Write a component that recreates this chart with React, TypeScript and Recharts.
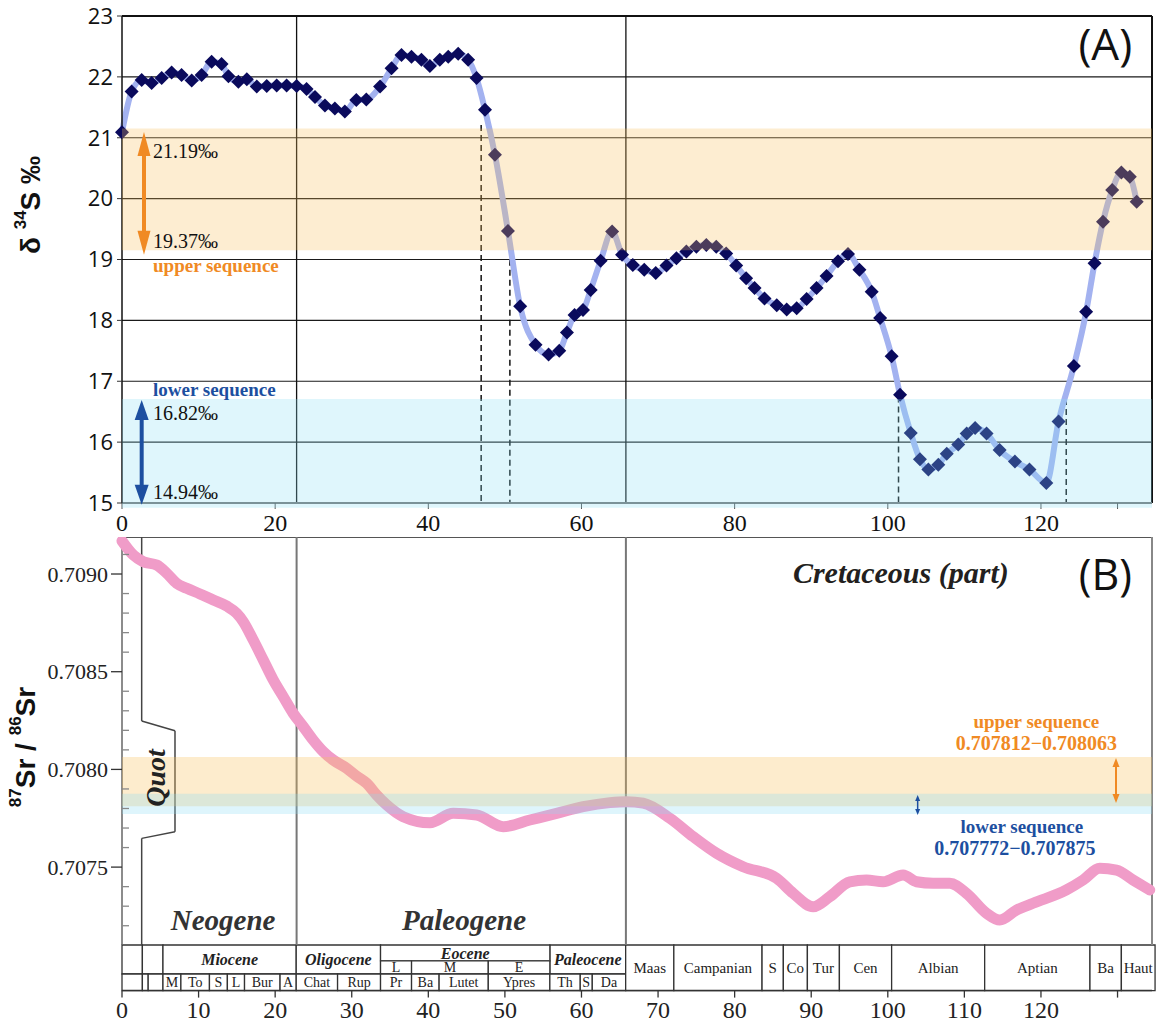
import React from "react";
import { LineChart, Line, XAxis, YAxis, CartesianGrid, ReferenceArea, ReferenceLine, ReferenceDot } from "recharts";

// ---- panel A : δ34S record ----
const sAge = [0, 1.26, 2.57, 3.87, 5.18, 6.48, 7.78, 9.1, 10.4, 11.7, 13.0, 13.9, 15.2, 16.3, 17.6, 18.9, 20.2, 21.5, 22.8, 24.1, 25.2, 26.5, 27.8, 29.1, 30.6, 31.9, 33.7, 35.2, 36.5, 37.8, 39.1, 40.2, 41.5, 42.6, 43.9, 45.2, 46.3, 47.4, 48.7, 50.4, 52.0, 54.0, 55.7, 57.1, 58.1, 59.1, 60.2, 61.2, 62.5, 64.0, 65.3, 66.7, 68.2, 69.7, 71.1, 72.4, 73.7, 75.0, 76.3, 77.6, 78.9, 80.2, 81.5, 82.6, 83.9, 85.5, 86.8, 88.1, 89.4, 90.7, 92.0, 93.5, 94.8, 96.3, 97.9, 99.0, 100.5, 101.6, 103.0, 104.2, 105.3, 106.6, 107.7, 109.2, 110.3, 111.4, 112.9, 114.6, 116.6, 118.5, 120.7, 122.3, 124.3, 125.9, 127.0, 128.1, 129.3, 130.5, 131.6, 132.5];
const sD34 = [21.09, 21.76, 21.95, 21.9, 21.98, 22.07, 22.03, 21.94, 22.03, 22.25, 22.21, 22.01, 21.92, 21.96, 21.84, 21.85, 21.86, 21.86, 21.85, 21.8, 21.67, 21.53, 21.48, 21.43, 21.62, 21.63, 21.84, 22.14, 22.36, 22.33, 22.28, 22.18, 22.28, 22.33, 22.38, 22.28, 21.98, 21.46, 20.72, 19.47, 18.23, 17.6, 17.44, 17.5, 17.8, 18.09, 18.17, 18.5, 18.98, 19.46, 19.08, 18.91, 18.83, 18.78, 18.9, 19.02, 19.13, 19.21, 19.24, 19.21, 19.1, 18.9, 18.69, 18.53, 18.36, 18.25, 18.18, 18.2, 18.35, 18.53, 18.73, 18.97, 19.09, 18.83, 18.47, 18.04, 17.41, 16.78, 16.15, 15.72, 15.55, 15.63, 15.81, 15.96, 16.14, 16.23, 16.14, 15.87, 15.68, 15.55, 15.33, 16.34, 17.25, 18.14, 18.94, 19.62, 20.14, 20.43, 20.36, 19.95];
const sYTicks = [15, 16, 17, 18, 19, 20, 21, 22, 23];
const sXTicks = [0, 20, 40, 60, 80, 100, 120, 130];
const sUpperBand = [19.15, 21.15];
const sLowerBand = [14.92, 16.71];
const sDropLines = [
  [46.9, 21.21],
  [50.65, 19.16],
  [101.4, 16.75],
  [123.3, 16.71],
];

// ---- panel B : 87Sr/86Sr seawater curve ----
const srAge = [0, 1.48, 2.78, 4.53, 5.84, 7.14, 8.45, 10.18, 11.92, 13.67, 14.97, 15.84, 17.14, 18.45, 19.75, 21.06, 22.36, 23.67, 24.97, 26.28, 27.58, 29.33, 30.64, 31.95, 33.25, 34.56, 36.72, 40.21, 43.25, 46.31, 49.78, 53.26, 56.75, 60.22, 63.71, 65.89, 68.05, 71.54, 74.58, 77.64, 81.11, 85.47, 87.64, 90.25, 92.43, 95.04, 97.22, 99.39, 102.0, 103.75, 105.91, 108.09, 110.27, 112.88, 114.62, 116.8, 118.97, 123.33, 125.5, 127.68, 129.86, 132.02, 134.2];
const srRatio = [0.709169, 0.709097, 0.709063, 0.709046, 0.709004, 0.708952, 0.708927, 0.708898, 0.708867, 0.708836, 0.708799, 0.708756, 0.708662, 0.70856, 0.708458, 0.708372, 0.708287, 0.708219, 0.70815, 0.708091, 0.708048, 0.708006, 0.707966, 0.707929, 0.707869, 0.707818, 0.707758, 0.707727, 0.707775, 0.707767, 0.707707, 0.707741, 0.707775, 0.707809, 0.70783, 0.707835, 0.707827, 0.70775, 0.707656, 0.707571, 0.707502, 0.707443, 0.707366, 0.707297, 0.707349, 0.707425, 0.707434, 0.707425, 0.70746, 0.707425, 0.707417, 0.707417, 0.707366, 0.707264, 0.707229, 0.70728, 0.707315, 0.707383, 0.707434, 0.707494, 0.707485, 0.707434, 0.707383];
const SR_TOP = 0.7091894;
const SR_PLOT_BOTTOM = 0.7071013; // lower edge of the curve frame, the time-scale strip sits below it
const SR_AXIS_BOTTOM = 0.706868; // bottom of the time-scale strip
const srTicks = [0.7072, 0.7073, 0.7074, 0.7075, 0.7076, 0.7077, 0.7078, 0.7079, 0.708, 0.7081, 0.7082, 0.7083, 0.7084, 0.7085, 0.7086, 0.7087, 0.7088, 0.7089, 0.709, 0.7091];
const srUpperBand = [0.707812, 0.708063];
const srLowerBand = [0.707772, 0.707875];

// ---- shared ----
const X_MAX = 134.5;
const periodBounds = [22.8, 65.8];
const timeTicks = [0, 10, 20, 30, 40, 50, 60, 70, 80, 90, 100, 110, 120, 130];

// geologic time scale (Ma)
const epochs = [
  { name: "", from: 0, to: 2.66 },
  { name: "", from: 2.66, to: 5.35 },
  { name: "Miocene", from: 5.35, to: 22.75 },
  { name: "Oligocene", from: 22.75, to: 33.76 },
  { name: "Paleocene", from: 55.87, to: 65.77 },
];
const eocene = { name: "Eocene", from: 33.76, to: 55.87 };
const eoceneParts = [
  { name: "L", from: 33.76, to: 37.81 },
  { name: "M", from: 37.81, to: 47.83 },
  { name: "E", from: 47.83, to: 55.87 },
];
const cenozoicStages = [
  { name: "", from: 0, to: 2.66 },
  { name: "", from: 2.66, to: 3.42 },
  { name: "", from: 3.42, to: 5.35 },
  { name: "M", from: 5.35, to: 7.69 },
  { name: "To", from: 7.69, to: 11.42 },
  { name: "S", from: 11.42, to: 13.76 },
  { name: "L", from: 13.76, to: 16.0 },
  { name: "Bur", from: 16.0, to: 20.64 },
  { name: "A", from: 20.64, to: 22.75 },
  { name: "Chat", from: 22.75, to: 28.15 },
  { name: "Rup", from: 28.15, to: 33.76 },
  { name: "Pr", from: 33.76, to: 37.81 },
  { name: "Ba", from: 37.81, to: 41.41 },
  { name: "Lutet", from: 41.41, to: 47.83 },
  { name: "Ypres", from: 47.83, to: 55.87 },
  { name: "Th", from: 55.87, to: 59.84 },
  { name: "S", from: 59.84, to: 61.41 },
  { name: "Da", from: 61.41, to: 65.77 },
];
const cretaceousStages = [
  { name: "Maas", from: 65.77, to: 72.06 },
  { name: "Campanian", from: 72.06, to: 83.58 },
  { name: "S", from: 83.58, to: 86.36 },
  { name: "Co", from: 86.36, to: 89.5 },
  { name: "Tur", from: 89.5, to: 93.68 },
  { name: "Cen", from: 93.68, to: 100.5 },
  { name: "Albian", from: 100.5, to: 112.65 },
  { name: "Aptian", from: 112.65, to: 126.4 },
  { name: "Ba", from: 126.4, to: 130.5 },
  { name: "Haut", from: 130.5, to: 134.9 },
];

const dataA = sAge.map((age, i) => ({ age, d34: sD34[i] }));
const dataB = srAge.map((age, i) => ({ age, sr: srRatio[i] }));

const SERIF = "'Liberation Serif', 'Times New Roman', serif";
const SANS = "'Open Sans', 'Noto Sans', sans-serif";
const ORANGE = "#f08a24";
const BLUE = "#1d4fa0";

// strip rows: 0 = bottom of strip, 1 = top of strip
const STAGE_TOP = 0.364;
const EOCENE_SPLIT = 0.654;
const stripY = (u: number) => SR_AXIS_BOTTOM + u * (SR_PLOT_BOTTOM - SR_AXIS_BOTTOM);

const renderDiamond = (p: any) => {
  const { cx, cy, index } = p;
  if (cx == null || cy == null) return <g key={`d${index}`} />;
  const s = 7;
  return <polygon key={`d${index}`} points={`${cx},${cy - s} ${cx + s},${cy} ${cx},${cy + s} ${cx - s},${cy}`} fill="#0a0a5c" />;
};

const textShape = (txt: string, style: any) => (p: any) => (
  <text x={p.cx} y={p.cy} {...style}>
    {txt}
  </text>
);

const rotatedText = (txt: string, style: any) => (p: any) => (
  <text x={p.cx} y={p.cy} transform={`rotate(-90 ${p.cx} ${p.cy})`} textAnchor="middle" dominantBaseline="central" {...style}>
    {txt}
  </text>
);

const arrowShape = (color: string, shaft: number, headLen: number, headW: number) => (p: any) => {
  const { x1, y1, x2, y2 } = p;
  const dx = x2 - x1;
  const dy = y2 - y1;
  const len = Math.hypot(dx, dy) || 1;
  const ux = dx / len;
  const uy = dy / len;
  const nx = -uy;
  const ny = ux;
  const head = (tx: number, ty: number, dir: number) => {
    const bx = tx - dir * ux * headLen;
    const by = ty - dir * uy * headLen;
    return `${tx},${ty} ${bx + (nx * headW) / 2},${by + (ny * headW) / 2} ${bx - (nx * headW) / 2},${by - (ny * headW) / 2}`;
  };
  return (
    <g>
      <line x1={x1 + ux * headLen * 0.7} y1={y1 + uy * headLen * 0.7} x2={x2 - ux * headLen * 0.7} y2={y2 - uy * headLen * 0.7} stroke={color} strokeWidth={shaft} />
      <polygon points={head(x2, y2, 1)} fill={color} />
      <polygon points={head(x1, y1, -1)} fill={color} />
    </g>
  );
};

const YLabelA = (props: any) => {
  const vb = props.viewBox || { x: 0, y: 16 };
  const cx = vb.x + 30;
  const cy = 205;
  return (
    <text x={cx} y={cy} transform={`rotate(-90 ${cx} ${cy})`} textAnchor="middle" dominantBaseline="central" fontFamily="'Liberation Sans', Arial, sans-serif" fontWeight="bold" fontSize={28} fill="#111">
      <tspan>δ </tspan>
      <tspan fontSize={17} dy={-10}>34</tspan>
      <tspan dy={10}>S ‰</tspan>
    </text>
  );
};

const YLabelB = (props: any) => {
  const vb = props.viewBox || { x: 0, y: 0 };
  const cx = vb.x + 25;
  const cy = vb.y + 210;
  return (
    <text x={cx} y={cy} transform={`rotate(-90 ${cx} ${cy})`} textAnchor="middle" dominantBaseline="central" fontFamily="'Liberation Sans', Arial, sans-serif" fontWeight="bold" fontSize={28} fill="#111">
      <tspan fontSize={17} dy={-10}>87</tspan>
      <tspan dy={10}>Sr / </tspan>
      <tspan fontSize={17} dy={-10}>86</tspan>
      <tspan dy={10}>Sr</tspan>
    </text>
  );
};

// labelled ticks every 0.0005 pointing out, minor ticks every 0.0001 pointing in
const SrTick = (p: any) => {
  const { x, y, payload } = p;
  const v = payload.value;
  const major = Math.abs(Math.round(v * 2000) - v * 2000) < 1e-6;
  if (major) {
    return (
      <g>
        <line x1={x - 11} y1={y} x2={x} y2={y} stroke="#333" strokeWidth={1.3} />
        <text x={x - 14} y={y} textAnchor="end" dominantBaseline="central" fontFamily={SERIF} fontSize={22} fill="#222">
          {v.toFixed(4)}
        </text>
      </g>
    );
  }
  return <line x1={x} y1={y} x2={x + 7} y2={y} stroke="#888" strokeWidth={1.3} />;
};

const annA = { fontFamily: SERIF, fontSize: 20, fill: "#111" };

function PanelA() {
  return (
    <LineChart width={1157} height={540} data={dataA} margin={{ top: 16, right: 5, left: 0, bottom: 0 }}>
      <CartesianGrid vertical={false} stroke="#1a1a1a" strokeWidth={1.2} />
      <XAxis
        type="number"
        dataKey="age"
        domain={[0, X_MAX]}
        ticks={sXTicks}
        interval={0}
        tickFormatter={(v: number) => (v === 130 ? "" : String(v))}
        tickSize={6}
        tickMargin={5}
        height={37}
        axisLine={{ stroke: "#777", strokeWidth: 2 }}
        tickLine={{ stroke: "#555" }}
        tick={{ fontFamily: SERIF, fontSize: 24, fill: "#111" }}
      />
      <YAxis
        domain={[15, 23]}
        ticks={sYTicks}
        interval={0}
        width={122}
        tickSize={5}
        tickMargin={4}
        axisLine={{ stroke: "#111", strokeWidth: 1.5 }}
        tickLine={{ stroke: "#333" }}
        tick={{ fontFamily: SANS, fontSize: 22, fill: "#111" }}
        label={<YLabelA />}
      />
      {periodBounds.map((x) => (
        <ReferenceLine key={`p${x}`} x={x} stroke="#111" strokeWidth={1.3} />
      ))}
      <ReferenceLine y={23} stroke="#111" strokeWidth={2} />
      <ReferenceLine x={X_MAX} stroke="#111" strokeWidth={2} />
      {sDropLines.map(([x, y]) => (
        <ReferenceLine key={`dl${x}`} segment={[{ x, y }, { x, y: 15 }]} stroke="#111" strokeWidth={1.5} strokeDasharray="6 4" />
      ))}
      <Line type="monotone" dataKey="d34" stroke="#a3b2f0" strokeWidth={6} dot={renderDiamond} activeDot={false} isAnimationActive={false} />
      <ReferenceArea x1={0} x2={X_MAX} y1={sUpperBand[0]} y2={sUpperBand[1]} fill="#f7c058" fillOpacity={0.28} stroke="none" ifOverflow="visible" zIndex={1000} />
      <ReferenceArea x1={0} x2={X_MAX} y1={sLowerBand[0]} y2={sLowerBand[1]} fill="#8adcf4" fillOpacity={0.27} stroke="none" ifOverflow="visible" zIndex={1000} />
      <ReferenceLine segment={[{ x: 2.87, y: 21.095 }, { x: 2.87, y: 19.08 }]} shape={arrowShape(ORANGE, 4, 24, 13)} ifOverflow="visible" zIndex={1100} />
      <ReferenceLine segment={[{ x: 2.57, y: 16.69 }, { x: 2.57, y: 14.97 }]} shape={arrowShape(BLUE, 4, 20, 14)} ifOverflow="visible" zIndex={1100} />
      <ReferenceDot x={4.05} y={20.67} r={0} ifOverflow="visible" shape={textShape("21.19‰", annA)} zIndex={1100} />
      <ReferenceDot x={4.05} y={19.19} r={0} ifOverflow="visible" shape={textShape("19.37‰", annA)} zIndex={1100} />
      <ReferenceDot x={4.05} y={18.8} r={0} ifOverflow="visible" shape={textShape("upper sequence", { fontFamily: SERIF, fontSize: 19, fontWeight: "bold", fill: ORANGE })} zIndex={1100} />
      <ReferenceDot x={4.05} y={16.76} r={0} ifOverflow="visible" shape={textShape("lower sequence", { fontFamily: SERIF, fontSize: 19, fontWeight: "bold", fill: BLUE })} zIndex={1100} />
      <ReferenceDot x={4.05} y={16.37} r={0} ifOverflow="visible" shape={textShape("16.82‰", annA)} zIndex={1100} />
      <ReferenceDot x={4.05} y={15.07} r={0} ifOverflow="visible" shape={textShape("14.94‰", annA)} zIndex={1100} />
      <ReferenceDot x={128.4} y={22.28} r={0} ifOverflow="visible" shape={textShape("(A)", { fontFamily: SANS, fontSize: 44, fill: "#111", textAnchor: "middle" })} zIndex={1100} />
    </LineChart>
  );
}

const quotOutline = [
  [2.57, SR_TOP, 2.57, 0.708248],
  [2.57, 0.708248, 6.92, 0.708198],
  [6.92, 0.708198, 6.92, 0.707681],
  [6.92, 0.707681, 2.57, 0.707647],
  [2.57, 0.707647, 2.57, SR_PLOT_BOTTOM],
];

function PanelB() {
  const big = { fontFamily: SERIF, fontSize: 29, fontWeight: "bold", fontStyle: "italic", fill: "#333", textAnchor: "middle" };
  const box = { stroke: "#333", strokeWidth: 1.3, fill: "#fff", fillOpacity: 1, ifOverflow: "visible" as const };
  const epochLabel = { position: "center" as const, fontFamily: SERIF, fontSize: 16, fontWeight: "bold", fontStyle: "italic", fill: "#222" };
  const stageLabel = { position: "center" as const, fontFamily: SERIF, fontSize: 14, fill: "#222" };
  const kLabel = { position: "center" as const, fontFamily: SERIF, fontSize: 15, fill: "#222" };
  return (
    <LineChart width={1157} height={486} data={dataB} margin={{ top: 0, right: 5, left: 0, bottom: 0 }}>
      <XAxis
        type="number"
        dataKey="age"
        domain={[0, X_MAX]}
        ticks={timeTicks}
        interval={0}
        tickFormatter={(v: number) => (v === 130 ? "" : String(v))}
        tickSize={7}
        tickMargin={3}
        height={32.4}
        axisLine={{ stroke: "#333", strokeWidth: 1.5 }}
        tickLine={{ stroke: "#333", strokeWidth: 1.3 }}
        tick={{ fontFamily: SERIF, fontSize: 24, fill: "#222" }}
      />
      <YAxis
        domain={[SR_AXIS_BOTTOM, SR_TOP]}
        ticks={srTicks}
        interval={0}
        width={122}
        tickSize={0}
        tickMargin={0}
        tickLine={false}
        axisLine={false}
        tick={SrTick}
        allowDataOverflow
        label={<YLabelB />}
      />
      <ReferenceLine segment={[{ x: 0, y: SR_PLOT_BOTTOM }, { x: 0, y: SR_TOP }]} stroke="#666" strokeWidth={1.5} />
      <ReferenceLine y={SR_TOP} stroke="#555" strokeWidth={2} />
      <ReferenceLine segment={[{ x: X_MAX, y: SR_PLOT_BOTTOM }, { x: X_MAX, y: SR_TOP }]} stroke="#888" strokeWidth={2} />
      {periodBounds.map((x) => (
        <ReferenceLine key={`pb${x}`} segment={[{ x, y: SR_PLOT_BOTTOM }, { x, y: SR_TOP }]} stroke="#777" strokeWidth={2} />
      ))}
      {quotOutline.map(([xa, ya, xb, yb], i) => (
        <ReferenceLine key={`q${i}`} segment={[{ x: xa, y: ya }, { x: xb, y: yb }]} stroke="#444" strokeWidth={1.5} ifOverflow="visible" />
      ))}
      <Line type="monotone" dataKey="sr" stroke="#f09cc8" strokeWidth={11} strokeLinecap="round" strokeLinejoin="round" dot={false} activeDot={false} isAnimationActive={false} />
      <ReferenceArea x1={0} x2={X_MAX} y1={srUpperBand[0]} y2={srUpperBand[1]} fill="#f7c058" fillOpacity={0.3} stroke="none" zIndex={1000} />
      <ReferenceArea x1={0} x2={X_MAX} y1={srLowerBand[0]} y2={srLowerBand[1]} fill="#8adcf4" fillOpacity={0.28} stroke="none" zIndex={1000} />
      <ReferenceLine segment={[{ x: 129.8, y: 0.708058 }, { x: 129.8, y: 0.707828 }]} shape={arrowShape(ORANGE, 2, 9, 7)} zIndex={1100} />
      <ReferenceLine segment={[{ x: 103.9, y: 0.707869 }, { x: 103.9, y: 0.707767 }]} shape={arrowShape(BLUE, 1.5, 6, 5)} zIndex={1100} />
      <ReferenceDot x={101.7} y={0.708954} r={0} ifOverflow="visible" shape={textShape("Cretaceous (part)", { ...big, fontSize: 30, fill: "#231f20" })} zIndex={1100} />
      <ReferenceDot x={128.4} y={0.708918} r={0} ifOverflow="visible" shape={textShape("(B)", { fontFamily: SANS, fontSize: 43, fill: "#111", textAnchor: "middle" })} zIndex={1100} />
      <ReferenceDot x={119.4} y={0.708212} r={0} ifOverflow="visible" shape={textShape("upper sequence", { fontFamily: SERIF, fontSize: 19, fontWeight: "bold", fill: ORANGE, textAnchor: "middle" })} zIndex={1100} />
      <ReferenceDot x={119.4} y={0.708099} r={0} ifOverflow="visible" shape={textShape("0.707812−0.708063", { fontFamily: SERIF, fontSize: 20, fontWeight: "bold", fill: ORANGE, textAnchor: "middle" })} zIndex={1100} />
      <ReferenceDot x={117.5} y={0.707675} r={0} ifOverflow="visible" shape={textShape("lower sequence", { fontFamily: SERIF, fontSize: 19, fontWeight: "bold", fill: BLUE, textAnchor: "middle" })} zIndex={1100} />
      <ReferenceDot x={116.6} y={0.707562} r={0} ifOverflow="visible" shape={textShape("0.707772−0.707875", { fontFamily: SERIF, fontSize: 20, fontWeight: "bold", fill: BLUE, textAnchor: "middle" })} zIndex={1100} />
      <ReferenceDot x={13.2} y={0.707178} r={0} ifOverflow="visible" shape={textShape("Neogene", big)} zIndex={1100} />
      <ReferenceDot x={44.66} y={0.707178} r={0} ifOverflow="visible" shape={textShape("Paleogene", big)} zIndex={1100} />
      <ReferenceDot x={4.44} y={0.707956} r={0} ifOverflow="visible" shape={rotatedText("Quot", { fontFamily: SERIF, fontSize: 28, fontWeight: "bold", fontStyle: "italic", fill: "#222" })} zIndex={1100} />

      {/* geologic time-scale strip */}
      {epochs.map((e, i) => (
        <ReferenceArea key={`e${i}`} x1={e.from} x2={e.to} y1={stripY(STAGE_TOP)} y2={stripY(1)} {...box} label={{ value: e.name, ...epochLabel }} />
      ))}
      <ReferenceArea x1={eocene.from} x2={eocene.to} y1={stripY(EOCENE_SPLIT)} y2={stripY(1)} {...box} label={{ value: eocene.name, ...epochLabel }} />
      {eoceneParts.map((e, i) => (
        <ReferenceArea key={`ep${i}`} x1={e.from} x2={e.to} y1={stripY(STAGE_TOP)} y2={stripY(EOCENE_SPLIT)} {...box} label={{ value: e.name, ...stageLabel }} />
      ))}
      {cenozoicStages.map((s, i) => (
        <ReferenceArea key={`cs${i}`} x1={s.from} x2={s.to} y1={stripY(0)} y2={stripY(STAGE_TOP)} {...box} label={{ value: s.name, ...stageLabel }} />
      ))}
      {cretaceousStages.map((s, i) => (
        <ReferenceArea key={`ks${i}`} x1={s.from} x2={s.to} y1={stripY(0)} y2={stripY(1)} {...box} label={{ value: s.name, ...kLabel }} />
      ))}
    </LineChart>
  );
}

export default function App() {
  return (
    <div style={{ position: "absolute", left: 0, top: 0, width: 1157, height: 1023, background: "#fff" }}>
      <div style={{ position: "absolute", left: 0, top: 0 }}>
        <PanelA />
      </div>
      <div style={{ position: "absolute", left: 0, top: 537 }}>
        <PanelB />
      </div>
    </div>
  );
}
